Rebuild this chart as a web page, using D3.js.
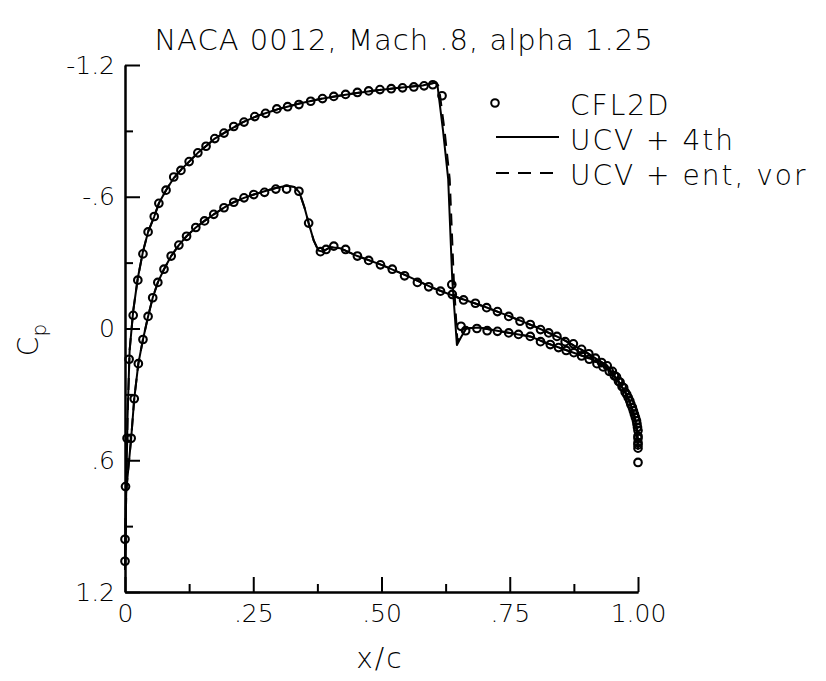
<!DOCTYPE html>
<html>
<head>
<meta charset="utf-8">
<script src="https://cdn.jsdelivr.net/npm/d3@7"></script>
<style>
  html, body { margin: 0; padding: 0; background: #fff; }
  svg { display: block; }
  text { font-family: "DejaVu Sans", "Liberation Sans", sans-serif; font-weight: 300; fill: #000; white-space: pre; }
</style>
</head>
<body>
<svg id="chart" width="826" height="681"></svg>
<script>
// ---------------- data ----------------
const titleText = "NACA 0012, Mach .8, alpha 1.25";
const xLabel = "x/c";
const legendLabels = ["CFL2D", "UCV + 4th", "UCV + ent, vor"];

const xTicksMajor = [0, 0.25, 0.5, 0.75, 1.0];
const xTickLabels = ["0", ".25", ".50", ".75", "1.00"];
const xTicksMinor = [0.125, 0.375, 0.625, 0.875];
const yTicksMajor = [-1.2, -0.6, 0, 0.6, 1.2];
const yTickLabels = ["-1.2", "-.6", "0", ".6", "1.2"];
const yTicksMinor = [-0.9, -0.3, 0.3, 0.9];

// CFL2D symbols, upper surface [x/c, Cp]
const cflUpper = [
  [0.0, 0.96], [0.004, 0.5], [0.008, 0.14], [0.016, -0.06], [0.025, -0.22],
  [0.035, -0.34], [0.045, -0.44], [0.057, -0.51], [0.066, -0.57], [0.08, -0.63],
  [0.095, -0.69], [0.109, -0.72], [0.125, -0.76], [0.142, -0.80], [0.158, -0.83],
  [0.175, -0.865], [0.193, -0.89], [0.212, -0.92], [0.232, -0.94], [0.253, -0.965],
  [0.274, -0.98], [0.296, -1.0], [0.317, -1.01], [0.339, -1.02], [0.362, -1.035],
  [0.385, -1.047], [0.407, -1.057], [0.43, -1.066], [0.453, -1.075], [0.475, -1.082],
  [0.497, -1.088], [0.519, -1.092], [0.541, -1.096], [0.563, -1.10], [0.583, -1.105],
  [0.600, -1.11], [0.618, -1.06], [0.637, -0.20], [0.655, -0.01], [0.664, 0.01],
  [0.686, 0.0], [0.706, 0.01], [0.726, 0.013], [0.748, 0.02], [0.767, 0.027],
  [0.79, 0.036], [0.81, 0.06], [0.829, 0.073], [0.845, 0.087], [0.86, 0.10],
  [0.875, 0.11], [0.89, 0.125], [0.905, 0.14], [0.92, 0.16], [0.932, 0.175],
  [0.944, 0.195], [0.954, 0.215], [0.962, 0.24], [0.969, 0.265], [0.975, 0.29],
  [0.981, 0.315], [0.986, 0.345], [0.991, 0.375], [0.995, 0.405], [0.998, 0.435],
  [1.0, 0.465], [1.0, 0.50], [1.0, 0.53], [1.0, 0.61]
];
// CFL2D symbols, lower surface [x/c, Cp]
const cflLower = [
  [0.0, 1.06], [0.001, 0.72], [0.012, 0.5], [0.018, 0.32], [0.026, 0.16],
  [0.035, 0.05], [0.045, -0.055], [0.054, -0.14], [0.064, -0.21], [0.076, -0.27],
  [0.09, -0.33], [0.105, -0.38], [0.12, -0.42], [0.138, -0.46], [0.155, -0.49],
  [0.173, -0.52], [0.193, -0.55], [0.212, -0.575], [0.232, -0.595], [0.251, -0.61],
  [0.272, -0.62], [0.294, -0.635], [0.315, -0.635], [0.339, -0.625], [0.358, -0.48],
  [0.381, -0.35], [0.392, -0.36], [0.407, -0.375], [0.43, -0.36], [0.453, -0.33],
  [0.475, -0.31], [0.498, -0.29], [0.521, -0.27], [0.545, -0.24], [0.57, -0.21],
  [0.592, -0.19], [0.615, -0.17], [0.638, -0.155], [0.66, -0.13], [0.683, -0.115],
  [0.705, -0.095], [0.726, -0.077], [0.748, -0.055], [0.77, -0.033], [0.79, -0.018],
  [0.81, 0.005], [0.826, 0.02], [0.842, 0.036], [0.858, 0.06], [0.874, 0.07],
  [0.89, 0.095], [0.904, 0.115], [0.917, 0.135], [0.929, 0.155], [0.94, 0.17],
  [0.95, 0.195], [0.958, 0.22], [0.965, 0.245], [0.972, 0.27], [0.978, 0.30],
  [0.984, 0.33], [0.989, 0.36], [0.993, 0.39], [0.997, 0.42], [0.999, 0.45],
  [1.0, 0.49], [1.0, 0.52], [1.0, 0.545]
];

// UCV + 4th (solid line)
const ucv4Upper = [
  [0.0, 1.1], [0.002, 0.8], [0.005, 0.4], [0.009, 0.1], [0.016, -0.08], [0.025, -0.23],
  [0.035, -0.35], [0.045, -0.44], [0.057, -0.51], [0.066, -0.57], [0.08, -0.63],
  [0.095, -0.685], [0.11, -0.725], [0.125, -0.76], [0.142, -0.80], [0.16, -0.835],
  [0.175, -0.865], [0.2, -0.90], [0.23, -0.94], [0.26, -0.97], [0.3, -1.0],
  [0.34, -1.025], [0.38, -1.045], [0.43, -1.065], [0.48, -1.082], [0.53, -1.095],
  [0.58, -1.107], [0.605, -1.12], [0.609, -1.11], [0.62, -0.9], [0.63, -0.68],
  [0.638, -0.22], [0.647, 0.075], [0.655, 0.04], [0.665, 0.0], [0.69, -0.005],
  [0.72, 0.008], [0.75, 0.02], [0.79, 0.036], [0.82, 0.065], [0.85, 0.09],
  [0.88, 0.115], [0.91, 0.14], [0.94, 0.18], [0.96, 0.235], [0.975, 0.29],
  [0.985, 0.34], [0.993, 0.40], [0.998, 0.46], [1.0, 0.55]
];
const ucv4Lower = [
  [0.0, 1.1], [0.002, 0.75], [0.012, 0.5], [0.018, 0.32], [0.026, 0.16], [0.035, 0.05],
  [0.045, -0.055], [0.054, -0.14], [0.064, -0.21], [0.076, -0.27], [0.09, -0.33],
  [0.105, -0.38], [0.12, -0.42], [0.138, -0.46], [0.155, -0.49], [0.173, -0.52],
  [0.193, -0.55], [0.212, -0.575], [0.232, -0.595], [0.251, -0.61], [0.272, -0.625],
  [0.294, -0.64], [0.315, -0.65], [0.33, -0.645], [0.34, -0.62], [0.35, -0.55],
  [0.358, -0.48], [0.368, -0.40], [0.377, -0.355], [0.385, -0.35], [0.40, -0.37],
  [0.42, -0.365], [0.453, -0.33], [0.50, -0.29], [0.55, -0.24], [0.60, -0.185],
  [0.65, -0.14], [0.70, -0.10], [0.75, -0.055], [0.80, -0.008], [0.85, 0.045],
  [0.90, 0.11], [0.94, 0.17], [0.96, 0.235], [0.975, 0.29], [0.985, 0.34],
  [0.993, 0.40], [0.998, 0.46], [1.0, 0.55]
];
// UCV + ent, vor (dashed line)
const ucvEntUpper = [
  [0.0, 1.1], [0.002, 0.8], [0.005, 0.4], [0.009, 0.1], [0.016, -0.08], [0.025, -0.23],
  [0.035, -0.35], [0.045, -0.44], [0.057, -0.51], [0.066, -0.57], [0.08, -0.63],
  [0.095, -0.685], [0.11, -0.725], [0.125, -0.76], [0.142, -0.80], [0.16, -0.835],
  [0.175, -0.865], [0.2, -0.90], [0.23, -0.94], [0.26, -0.97], [0.3, -1.0],
  [0.34, -1.025], [0.38, -1.045], [0.43, -1.065], [0.48, -1.082], [0.53, -1.095],
  [0.58, -1.107], [0.607, -1.12], [0.612, -1.10], [0.623, -0.9], [0.633, -0.68],
  [0.641, -0.22], [0.648, 0.06], [0.656, 0.03], [0.665, 0.0], [0.69, -0.005],
  [0.72, 0.008], [0.75, 0.02], [0.79, 0.036], [0.82, 0.065], [0.85, 0.09],
  [0.88, 0.115], [0.91, 0.14], [0.94, 0.18], [0.96, 0.235], [0.975, 0.29],
  [0.985, 0.34], [0.993, 0.40], [0.998, 0.46], [1.0, 0.55]
];
const ucvEntLower = [
  [0.0, 1.1], [0.002, 0.75], [0.012, 0.5], [0.018, 0.32], [0.026, 0.16], [0.035, 0.05],
  [0.045, -0.055], [0.054, -0.14], [0.064, -0.21], [0.076, -0.27], [0.09, -0.33],
  [0.105, -0.38], [0.12, -0.42], [0.138, -0.46], [0.155, -0.49], [0.173, -0.52],
  [0.193, -0.55], [0.212, -0.575], [0.232, -0.595], [0.251, -0.61], [0.272, -0.625],
  [0.294, -0.64], [0.315, -0.65], [0.33, -0.645], [0.34, -0.62], [0.35, -0.55],
  [0.358, -0.48], [0.368, -0.40], [0.377, -0.355], [0.385, -0.35], [0.40, -0.37],
  [0.42, -0.365], [0.453, -0.33], [0.50, -0.29], [0.55, -0.24], [0.60, -0.185],
  [0.65, -0.14], [0.70, -0.10], [0.75, -0.055], [0.80, -0.008], [0.85, 0.045],
  [0.90, 0.11], [0.94, 0.17], [0.96, 0.235], [0.975, 0.29], [0.985, 0.34],
  [0.993, 0.40], [0.998, 0.46], [1.0, 0.55]
];

// ---------------- drawing ----------------
const svg = d3.select("#chart");
const x = d3.scaleLinear().domain([0, 1]).range([125, 638]);
const y = d3.scaleLinear().domain([-1.2, 1.2]).range([65, 592]);

const ink = "#000";

// title
svg.append("text").attr("x", 404).attr("y", 50).attr("text-anchor", "middle")
  .attr("font-size", 29).attr("letter-spacing", 1).text(titleText);

// axes
const yAxis = d3.axisLeft(y).tickValues(yTicksMajor)
  .tickFormat((d, i) => yTickLabels[i]).tickSizeInner(-15).tickSizeOuter(0).tickPadding(10);
const yAxisMinor = d3.axisLeft(y).tickValues(yTicksMinor)
  .tickFormat("").tickSizeInner(-8).tickSizeOuter(0);
const xAxis = d3.axisBottom(x).tickValues(xTicksMajor)
  .tickFormat((d, i) => xTickLabels[i]).tickSizeInner(-15).tickSizeOuter(0).tickPadding(12);
const xAxisMinor = d3.axisBottom(x).tickValues(xTicksMinor)
  .tickFormat("").tickSizeInner(-8).tickSizeOuter(0);

function styleAxis(g) {
  g.selectAll("path, line").attr("stroke", ink).attr("stroke-width", 2);
  g.selectAll("text").attr("font-size", 25).attr("font-family", null).attr("fill", ink);
}
svg.append("g").attr("transform", `translate(${x(0)},0)`).call(yAxisMinor).call(styleAxis);
svg.append("g").attr("transform", `translate(${x(0)},0)`).call(yAxis).call(styleAxis);
svg.append("g").attr("transform", `translate(0,${y(1.2)})`).call(xAxisMinor).call(styleAxis);
svg.append("g").attr("transform", `translate(0,${y(1.2)})`).call(xAxis).call(styleAxis);

// axis titles
svg.append("text").attr("x", 380).attr("y", 668).attr("text-anchor", "middle")
  .attr("font-size", 28).attr("letter-spacing", 2).text(xLabel);
const cp = svg.append("text").attr("transform", "translate(38,340) rotate(-90)")
  .attr("text-anchor", "middle").attr("font-size", 28);
cp.append("tspan").text("C");
cp.append("tspan").attr("font-size", 20).attr("dy", 8).text("p");

// lines
const line = d3.line().x(d => x(d[0])).y(d => y(d[1]));
const plot = svg.append("g").attr("fill", "none").attr("stroke", ink)
  .attr("stroke-linejoin", "round");
[ucv4Upper, ucv4Lower].forEach(s =>
  plot.append("path").datum(s).attr("d", line).attr("stroke-width", 2));
[ucvEntUpper, ucvEntLower].forEach(s =>
  plot.append("path").datum(s).attr("d", line).attr("stroke-width", 2)
    .attr("stroke-dasharray", "12,8"));

// symbols
const sym = svg.append("g").attr("fill", "none").attr("stroke", ink).attr("stroke-width", 2.1);
sym.selectAll("circle.u").data(cflUpper).join("circle").attr("class", "u")
  .attr("cx", d => x(d[0])).attr("cy", d => y(d[1])).attr("r", 3.8);
sym.selectAll("circle.l").data(cflLower).join("circle").attr("class", "l")
  .attr("cx", d => x(d[0])).attr("cy", d => y(d[1])).attr("r", 3.8);

// legend
const lg = svg.append("g");
lg.append("circle").attr("cx", 495).attr("cy", 103).attr("r", 3.8)
  .attr("fill", "none").attr("stroke", ink).attr("stroke-width", 2);
lg.append("line").attr("x1", 496).attr("x2", 559).attr("y1", 137).attr("y2", 137)
  .attr("stroke", ink).attr("stroke-width", 2);
lg.append("line").attr("x1", 496).attr("x2", 559).attr("y1", 173).attr("y2", 173)
  .attr("stroke", ink).attr("stroke-width", 2).attr("stroke-dasharray", "13,9");
[115, 150, 185].forEach((by, i) =>
  lg.append("text").attr("x", 570).attr("y", by).attr("font-size", 28)
    .attr("letter-spacing", 2).text(legendLabels[i]));
</script>
</body>
</html>
